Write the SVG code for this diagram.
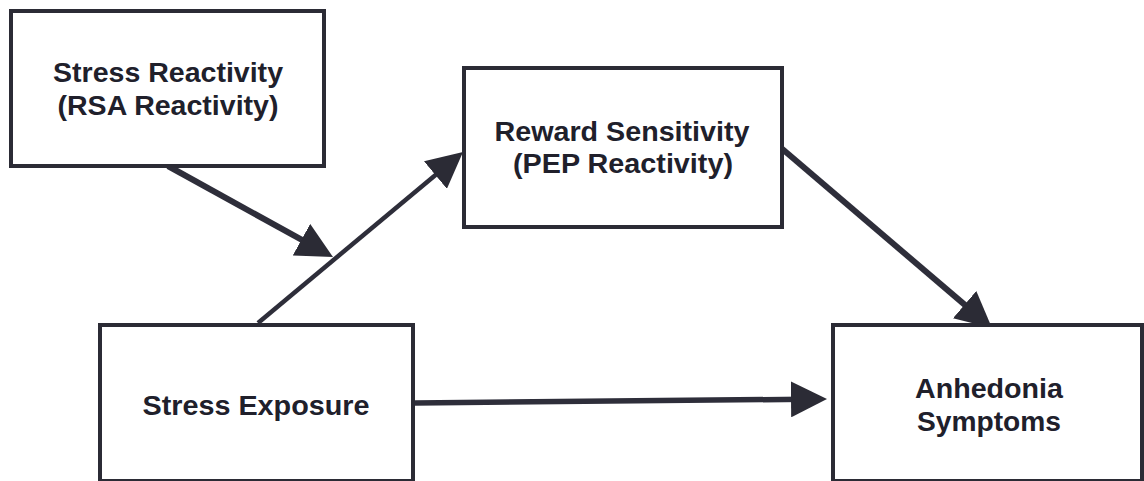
<svg xmlns="http://www.w3.org/2000/svg" width="1144" height="481" viewBox="0 0 1144 481">
  <defs>
    <style>
      .box { fill: #ffffff; stroke: #2b2b35; stroke-width: 4; }
      .lbl { font-family: "Liberation Sans", Arial, sans-serif; font-weight: bold; font-size: 27px; fill: #20202b; text-anchor: middle; }
      .conn { stroke: #2e2e3a; fill: none; stroke-linecap: butt; }
    </style>
    <marker id="arrow" viewBox="0 0 36 36" refX="15" refY="18" markerWidth="36" markerHeight="36" markerUnits="userSpaceOnUse" orient="auto">
      <path d="M0,0 L36,18 L0,36 Z" fill="#2b2b35"/>
    </marker>
  </defs>
  <rect width="1144" height="481" fill="#ffffff"/>

  <g id="connectors">
    <line class="conn" x1="168" y1="166" x2="314.6" y2="246.9" stroke-width="6" marker-end="url(#arrow)"/>
    <line class="conn" x1="258" y1="323" x2="446.9" y2="165.4" stroke-width="4.5" marker-end="url(#arrow)"/>
    <line class="conn" x1="780" y1="147" x2="976" y2="314.4" stroke-width="6" marker-end="url(#arrow)"/>
    <line class="conn" x1="415" y1="403" x2="806" y2="399.2" stroke-width="5.5" marker-end="url(#arrow)"/>
  </g>

  <g id="stress-reactivity">
    <rect class="box" x="11" y="11" width="313" height="155"/>
    <text class="lbl" x="168" y="82" textLength="230" lengthAdjust="spacingAndGlyphs">Stress Reactivity</text>
    <text class="lbl" x="168" y="115" textLength="221" lengthAdjust="spacingAndGlyphs">(RSA Reactivity)</text>
  </g>

  <g id="reward-sensitivity">
    <rect class="box" x="464" y="68" width="318" height="159"/>
    <text class="lbl" x="622" y="141" textLength="255" lengthAdjust="spacingAndGlyphs">Reward Sensitivity</text>
    <text class="lbl" x="623" y="173" textLength="220" lengthAdjust="spacingAndGlyphs">(PEP Reactivity)</text>
  </g>

  <g id="stress-exposure">
    <rect class="box" x="100" y="325" width="313" height="156"/>
    <text class="lbl" x="256" y="415" textLength="227" lengthAdjust="spacingAndGlyphs">Stress Exposure</text>
  </g>

  <g id="anhedonia-symptoms">
    <rect class="box" x="833" y="325" width="309" height="156"/>
    <text class="lbl" x="989" y="398" textLength="148" lengthAdjust="spacingAndGlyphs">Anhedonia</text>
    <text class="lbl" x="989" y="431" textLength="144" lengthAdjust="spacingAndGlyphs">Symptoms</text>
  </g>
</svg>
